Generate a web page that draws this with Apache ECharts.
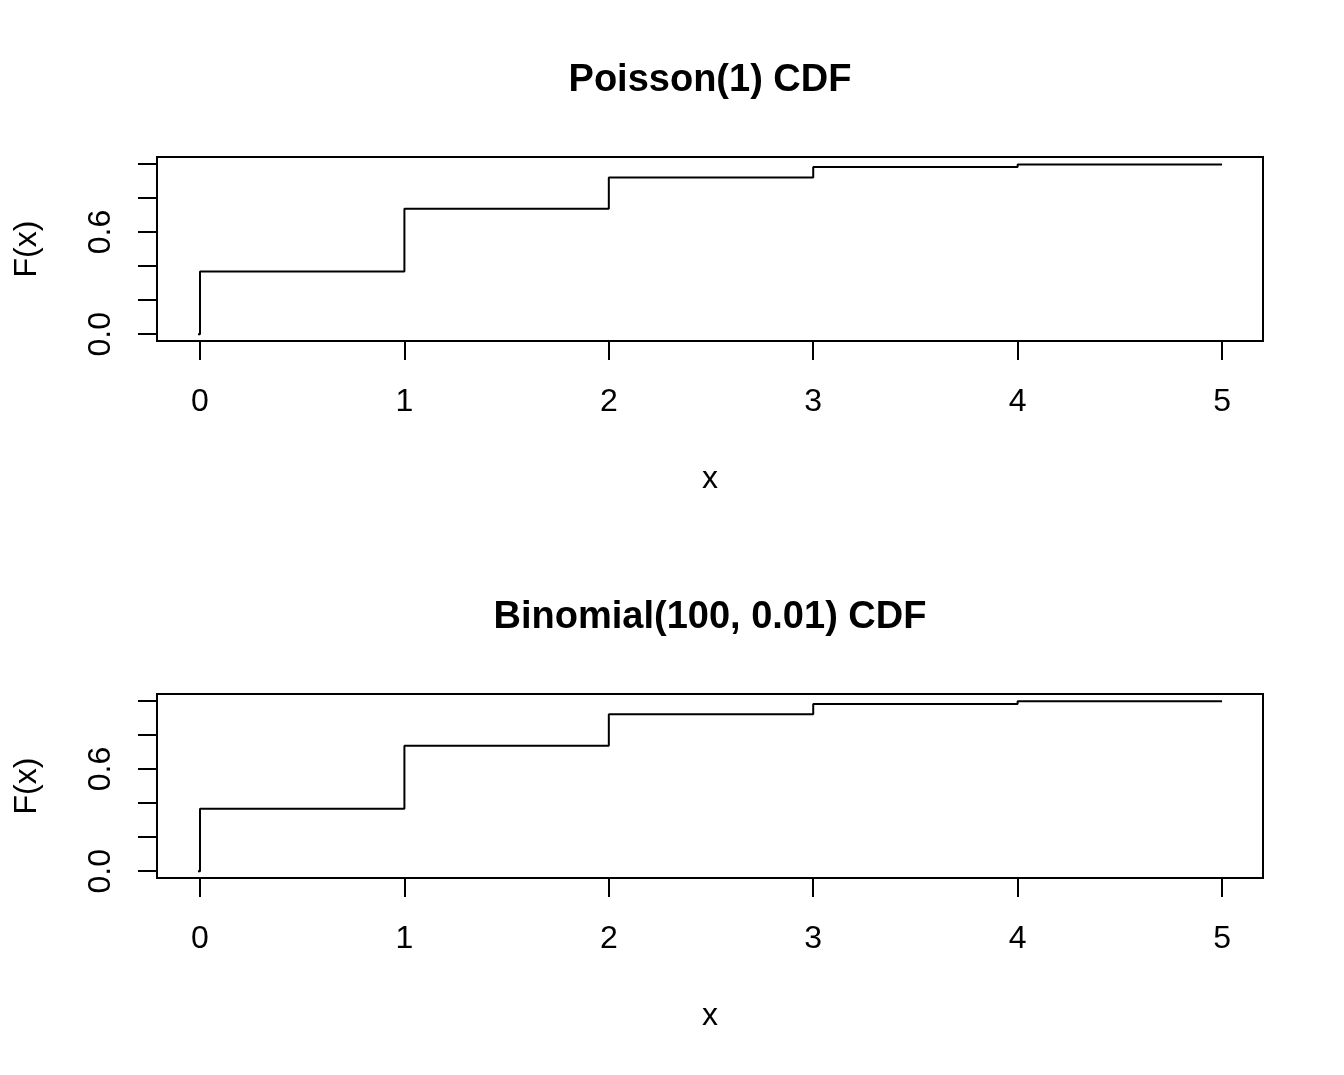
<!DOCTYPE html>
<html>
<head>
<meta charset="utf-8">
<script src="https://cdn.jsdelivr.net/npm/echarts@6/dist/echarts.min.js"></script>
<style>
html,body{margin:0;padding:0;background:#fff;}
#chart{width:1344px;height:1075px;}
</style>
</head>
<body>
<div id="chart"></div>
<script>
// data
var xs = [-0.01, 0, 1, 2, 3, 4, 5];
var poisF = [0, 0.368, 0.736, 0.920, 0.981, 0.996, 0.999];
var binomF = [0, 0.366, 0.736, 0.921, 0.982, 0.997, 0.999];
var titles = ['Poisson(1) CDF', 'Binomial(100, 0.01) CDF'];
var xTicks = [0, 1, 2, 3, 4, 5];
var yTicks = [0, 0.2, 0.4, 0.6, 0.8, 1.0];
var yLabels = [0, 0.6];

(function(){
    var myChart = echarts.init(document.getElementById('chart'));
    var font = 'Liberation Sans, Arial, sans-serif';
    var tops = [157, 694];

    function pairs(ys){
        return xs.map(function(x, i){ return [x, ys[i]]; });
    }

    var option = {
        animation: false,
        backgroundColor: '#fff',
        title: tops.map(function(t, i){
            return {
                text: titles[i],
                left: 710,
                top: t - 95,
                textAlign: 'center',
                padding: 0,
                textStyle: { fontFamily: font, fontSize: 38, fontWeight: 'bold', color: '#000' }
            };
        }),
        grid: tops.map(function(t){
            return {
                left: 157, top: t, width: 1106, height: 184,
                show: true, borderColor: '#000', borderWidth: 2, backgroundColor: 'transparent'
            };
        }),
        xAxis: tops.map(function(t, i){
            return {
                type: 'value', gridIndex: i,
                min: -0.2104, max: 5.2004,
                name: 'x', nameLocation: 'middle', nameGap: 122,
                nameTextStyle: { fontFamily: font, fontSize: 32, color: '#000' },
                axisLine: { show: false, onZero: false },
                splitLine: { show: false },
                axisTick: { show: true, length: 19, customValues: xTicks, lineStyle: { color: '#000', width: 2 } },
                axisLabel: { customValues: xTicks, margin: 45, fontFamily: font, fontSize: 32, color: '#000' }
            };
        }),
        yAxis: tops.map(function(t, i){
            return {
                type: 'value', gridIndex: i,
                min: -0.04, max: 1.04,
                name: 'F(x)', nameLocation: 'middle', nameGap: 114, nameRotate: 90,
                nameTextStyle: { fontFamily: font, fontSize: 32, color: '#000' },
                axisLine: { show: false, onZero: false },
                splitLine: { show: false },
                axisTick: { show: true, length: 19, customValues: yTicks, lineStyle: { color: '#000', width: 2 } },
                axisLabel: {
                    customValues: yLabels, rotate: 90, margin: 40,
                    fontFamily: font, fontSize: 32, color: '#000',
                    formatter: function(v){ return v.toFixed(1); }
                }
            };
        }),
        series: [poisF, binomF].map(function(ys, i){
            return {
                type: 'line', step: 'end', xAxisIndex: i, yAxisIndex: i,
                symbol: 'none', silent: true,
                lineStyle: { color: '#000', width: 2 },
                data: pairs(ys)
            };
        })
    };
    myChart.setOption(option);
})();
</script>
</body>
</html>
